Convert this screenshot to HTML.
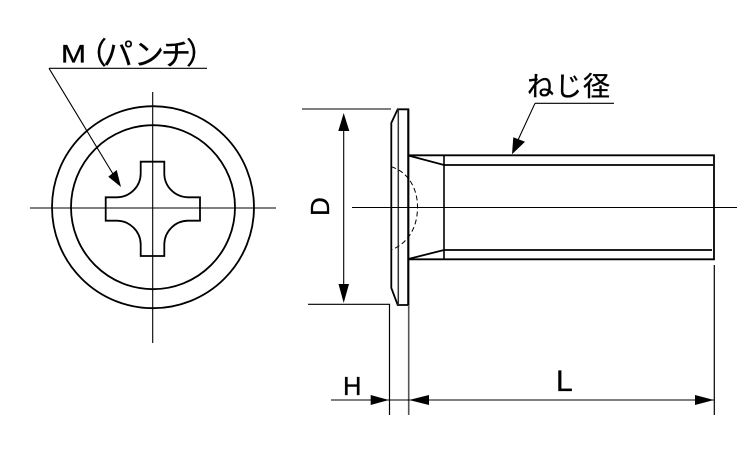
<!DOCTYPE html>
<html>
<head>
<meta charset="utf-8">
<style>
html,body{margin:0;padding:0;background:#fff;}
svg{display:block;}
text{fill:#000;stroke:#000;stroke-width:.35;font-family:"Liberation Sans","Noto Sans CJK JP",sans-serif;}
</style>
</head>
<body>
<svg width="750" height="450" viewBox="0 0 750 450" xmlns="http://www.w3.org/2000/svg">
<rect width="750" height="450" fill="#fff"/>
<!-- front view -->
<g fill="none" stroke="#000">
<circle cx="153" cy="207.2" r="101" stroke-width="1.8"/>
<circle cx="153" cy="207.2" r="82" stroke-width="1.8"/>
<line x1="30" y1="208" x2="276" y2="208" stroke-width="1.1"/>
<line x1="152.7" y1="92" x2="152.7" y2="343" stroke-width="1.1"/>
<path stroke-width="1.8" d="M140.7 161.7H164.3V173A24 24 0 0 0 188 197.3H200V220.7H188A24 24 0 0 0 164.3 244V256H140.7V244A24 24 0 0 0 117 220.7H105.7V197.3H117A24 24 0 0 0 140.7 173Z"/>
<line x1="49" y1="68.3" x2="207" y2="68.3" stroke-width="1.2"/>
<line x1="49" y1="68.3" x2="113" y2="174" stroke-width="1.1"/>
</g>
<polygon points="121,187 108.3,176.7 116.7,170" fill="#000"/>
<text transform="translate(61,62.5) scale(1.2,1)" font-size="25">M</text>
<text y="64" font-size="30" x="77">（</text>
<text y="65" font-size="30" x="103">パ</text>
<text y="65" font-size="30" x="134">ン</text>
<text y="65" font-size="30" x="161">チ</text>
<text y="64" font-size="30" x="186">）</text>
<!-- side view -->
<g fill="none" stroke="#000">
<path stroke-width="1.8" d="M408.3 109.3H397.7L391.3 123V288L397.7 305H408.3Z"/>
<line x1="398.3" y1="109.3" x2="398.3" y2="305" stroke-width="1.5" stroke="#333"/>
<line x1="408.3" y1="109.3" x2="408.3" y2="305" stroke-width="2"/>
<path stroke-width="1.8" d="M408.3 155.3H714V259.3H408.3"/>
<line x1="444" y1="155.3" x2="444" y2="259.3" stroke-width="1.6"/>
<path stroke-width="1.8" d="M408.3 155.5L444 165H713M408.3 259L444 250H712"/>
<path stroke-width="1" stroke-dasharray="5 3" d="M391.3 166.7C408 172 417.5 188 417.5 207C417.5 228 408 243 391.3 250"/>
<line x1="352" y1="207.5" x2="737" y2="207.5" stroke-width="1.1"/>
<!-- dimensions -->
<line x1="302" y1="109" x2="391" y2="109" stroke-width="1.6" stroke="#555"/>
<path stroke-width="1.2" d="M308 304.3H389.5V415"/>
<line x1="408.7" y1="305" x2="408.7" y2="415" stroke-width="1.6" stroke="#555"/>
<line x1="714.3" y1="265" x2="714.3" y2="415" stroke-width="1.2"/>
<line x1="343.7" y1="125" x2="343.7" y2="290" stroke-width="1.1"/>
<line x1="331" y1="400" x2="375" y2="400" stroke-width="1.1"/>
<line x1="375" y1="400" x2="714" y2="400" stroke-width="1.1"/>
<line x1="535" y1="103.3" x2="614" y2="103.3" stroke-width="1.2"/>
<line x1="535" y1="103.3" x2="518" y2="140" stroke-width="1.1"/>
</g>
<g fill="#000">
<polygon points="343.7,113 338.3,131 349.3,131"/>
<polygon points="343.7,303 338.5,284 349,284"/>
<polygon points="389,400 370.7,395 370.7,405"/>
<polygon points="409,400 429,395 429,405"/>
<polygon points="714,400 695,395 695,405"/>
<polygon points="512,154.3 513.3,137.3 525,141.7"/>
</g>
<text x="343" y="395" font-size="25.6">H</text>
<text x="556" y="391" font-size="30">L</text>
<text transform="translate(329,216) rotate(-90)" font-size="26">D</text>
<text y="96" x="527" font-size="27">ね</text>
<text y="96" x="555" font-size="27">じ</text>
<text y="96" x="583" font-size="27">径</text>
</svg>
</body>
</html>
